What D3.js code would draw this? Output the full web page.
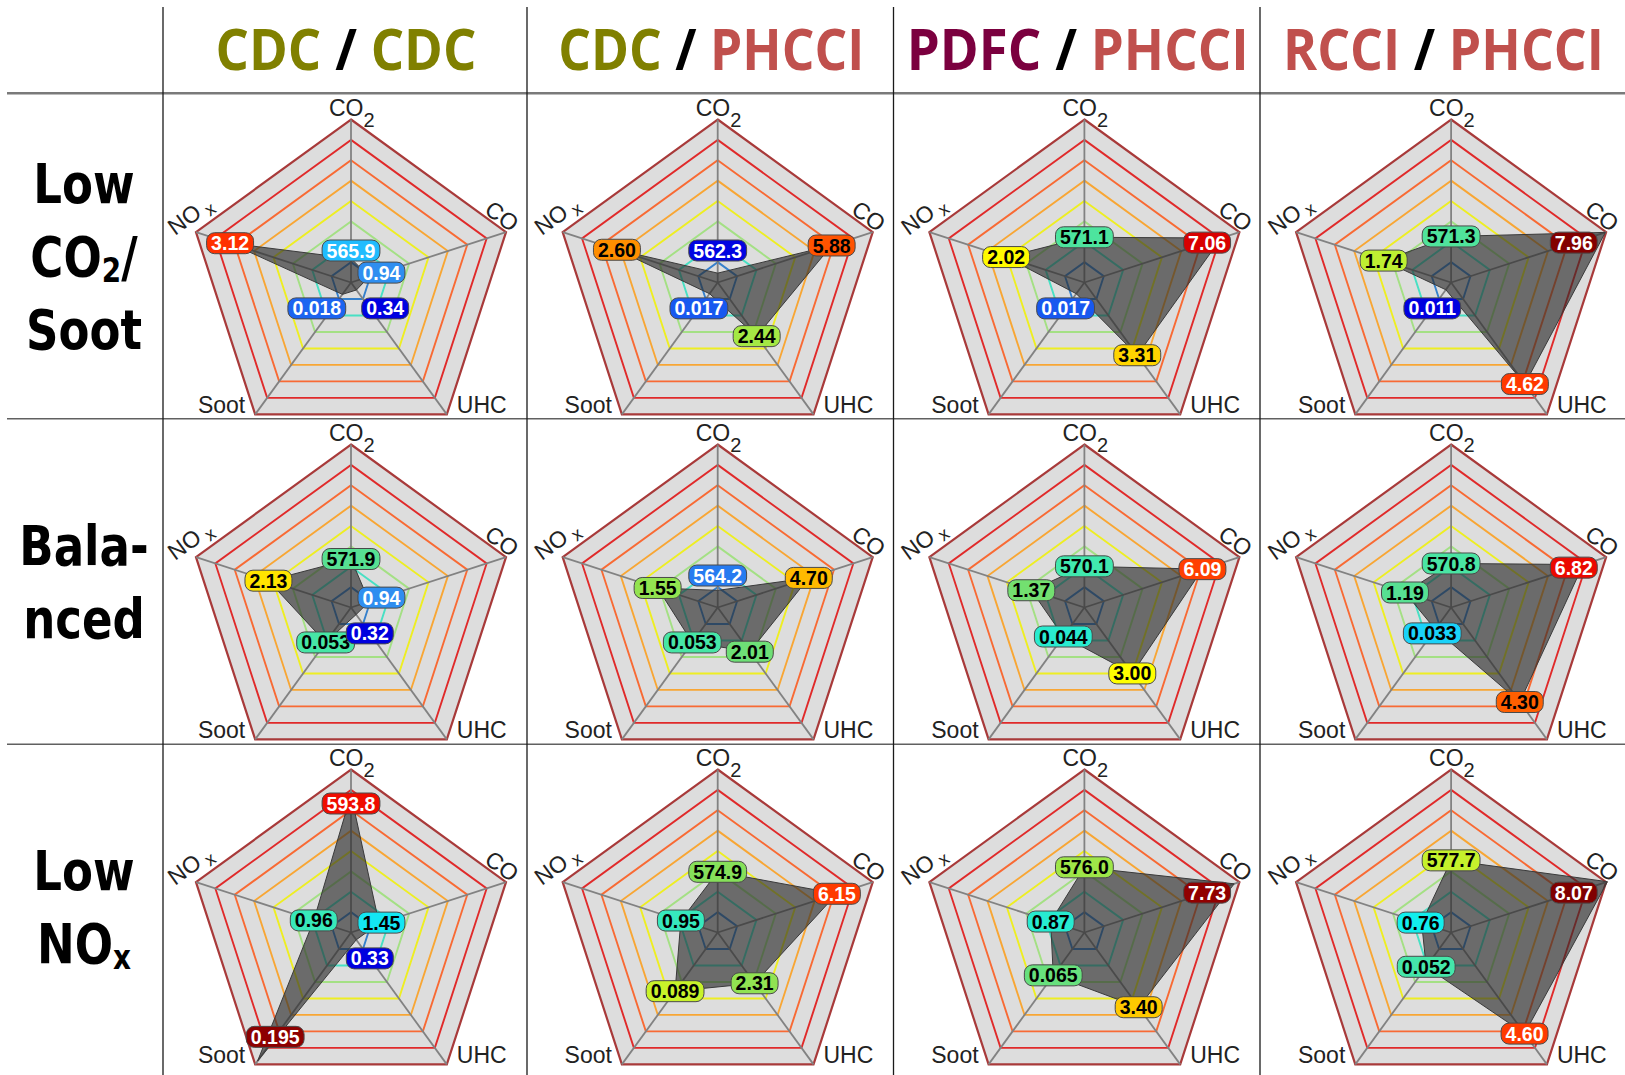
<!DOCTYPE html>
<html>
<head>
<meta charset="utf-8">
<script src="https://cdn.jsdelivr.net/npm/d3@7"></script>
<style>
  body { margin: 0; background: #fff; }
  svg { display: block; }
</style>
</head>
<body>
<svg id="chart" width="1625" height="1075"></svg>
<script>
// ---- data -------------------------------------------------------------
// Combustion strategy pairs (columns) and operating targets (rows)
const strategyPairs = [["CDC", "CDC"], ["CDC", "PHCCI"], ["PDFC", "PHCCI"], ["RCCI", "PHCCI"]];
const modes = ["Low CO2/Soot", "Balanced", "Low NOx"];
const axisNames = ["CO2", "CO", "UHC", "Soot", "NOx"];

// Emissions, one row per mode, one column per strategy pair
const co2Values  = [[565.9, 562.3, 571.1, 571.3], [571.9, 564.2, 570.1, 570.8], [593.8, 574.9, 576.0, 577.7]];
const coValues   = [[0.94, 5.88, 7.06, 7.96], [0.94, 4.70, 6.09, 6.82], [1.45, 6.15, 7.73, 8.07]];
const uhcValues  = [[0.34, 2.44, 3.31, 4.62], [0.32, 2.01, 3.00, 4.30], [0.33, 2.31, 3.40, 4.60]];
const sootValues = [[0.018, 0.017, 0.017, 0.011], [0.053, 0.053, 0.044, 0.033], [0.195, 0.089, 0.065, 0.052]];
const noxValues  = [[3.12, 2.60, 2.02, 1.74], [2.13, 1.55, 1.37, 1.19], [0.96, 0.95, 0.87, 0.76]];

// Axis ranges (centre -> outer ring)
const co2Domain  = [560, 600];
const coDomain   = [0, 8];
const uhcDomain  = [0, 6];
const sootDomain = [0, 0.2];
const noxDomain  = [0, 4];

// ---- layout & style ---------------------------------------------------
const series  = [co2Values, coValues, uhcValues, sootValues, noxValues];
const domains = [co2Domain, coDomain, uhcDomain, sootDomain, noxDomain];
const formats = [d3.format(".1f"), d3.format(".2f"), d3.format(".2f"), d3.format(".3f"), d3.format(".2f")];

const methodColor = { CDC: "#808000", PHCCI: "#c0504d", PDFC: "#7b003f", RCCI: "#c0504d" };
const colLines = [163, 527, 893.5, 1260];
const colRight = 1625;
const headerLineY = 93.3;
const rowLines = [418.7, 744.2];
const R = 163, ringCount = 8, ringStep = R / ringCount;
const cx0 = 351, dxCell = 366.7, cy0 = 282.5, dyCell = 325;
const ringColors = ["#3580cc", "#48e0c4", "#a4e084", "#eeee22", "#f8a634", "#f86a34", "#e02a2a", "#a83a3a"];
const colorStops = [[0, "#0000b0"], [0.45, "#0000e0"], [0.7, "#1a60f0"], [0.95, "#3090f0"], [1.2, "#20c0ff"],
  [1.5, "#10eef0"], [2.0, "#40e8b0"], [2.4, "#58e090"], [3.0, "#88e058"], [3.5, "#c0f030"], [4.0, "#ffff00"],
  [4.5, "#ffcc00"], [5.0, "#ffa000"], [5.5, "#ff7400"], [6.0, "#ff4800"], [6.5, "#ff1800"], [7.0, "#e00000"],
  [7.5, "#a00000"], [8.0, "#800000"]];
const labelColor = d3.scaleLinear()
  .domain(colorStops.map(s => s[0]))
  .range(colorStops.map(s => s[1]))
  .clamp(true);

const svg = d3.select("#chart");
const scales = domains.map(d => d3.scaleLinear().domain(d).range([0, R]));
const angle = i => i * 2 * Math.PI / 5;
const ringPath = d3.lineRadial().angle((d, i) => angle(i)).radius(d => d).curve(d3.curveLinearClosed);

// ---- table grid --------------------------------------------------------
const grid = svg.append("g");
grid.append("line").attr("x1", 7).attr("x2", colRight).attr("y1", headerLineY).attr("y2", headerLineY)
  .attr("stroke", "#7a7a7a").attr("stroke-width", 2.5);
rowLines.forEach(y => grid.append("line").attr("x1", 7).attr("x2", colRight).attr("y1", y).attr("y2", y)
  .attr("stroke", "#606060").attr("stroke-width", 1.5));
colLines.forEach(x => grid.append("line").attr("x1", x).attr("x2", x).attr("y1", 7).attr("y2", 1075)
  .attr("stroke", "#1a1a1a").attr("stroke-width", 1.3));

// ---- column headers ----------------------------------------------------
const headerWidths = [261, 306, 342, 321];
const headerFont = "'Open Sans', 'Noto Sans', sans-serif";
strategyPairs.forEach((pair, c) => {
  const left = colLines[c], right = c + 1 < colLines.length ? colLines[c + 1] : colRight;
  const hg = svg.append("g");
  const parts = [[pair[0], methodColor[pair[0]]], ["/", "#000"], [pair[1], methodColor[pair[1]]]];
  const gap = 15;
  let x = 0;
  parts.forEach(([s, col], k) => {
    const t = hg.append("text").attr("x", x).attr("y", 0)
      .attr("font-family", headerFont).attr("font-weight", 700).attr("font-size", 57)
      .attr("fill", col).text(s);
    x += t.node().getComputedTextLength() + (k < parts.length - 1 ? gap : 0);
  });
  const sx = headerWidths[c] / x;
  const centre = (left + right) / 2 + 1;
  hg.attr("transform", `translate(${centre - headerWidths[c] / 2},70) scale(${sx},1)`);
});

// ---- row headers -------------------------------------------------------
const rowText = [
  [[["Low"]], [["CO"], ["2", "sub"], ["/"]], [["Soot"]]],
  [[["Bala-"]], [["nced"]]],
  [[["Low"]], [["NO"], ["x", "sub"]]]
];
rowText.forEach((lines, r) => {
  const top = r === 0 ? headerLineY : rowLines[r - 1];
  const bottom = r < rowLines.length ? rowLines[r] : 1069;
  const mid = (top + bottom) / 2;
  lines.forEach((segs, k) => {
    const y = mid + 20 + (k - (lines.length - 1) / 2) * 73;
    const t = svg.append("text")
      .attr("transform", `translate(84,${y}) scale(0.82,1)`)
      .attr("text-anchor", "middle")
      .attr("font-family", "'DejaVu Sans', sans-serif")
      .attr("font-weight", 700).attr("font-size", 55).attr("fill", "#000");
    let shifted = false;
    segs.forEach(([s, kind]) => {
      const ts = t.append("tspan").text(s);
      if (kind === "sub") { ts.attr("font-size", 34).attr("dy", 6); shifted = true; }
      else if (shifted) { ts.attr("dy", -6); shifted = false; }
    });
  });
});

// ---- radar cells -------------------------------------------------------
const font = "'Liberation Sans', Arial, sans-serif";
const titleSize = 23;
modes.forEach((mode, r) => {
  strategyPairs.forEach((pair, c) => {
    const cx = cx0 + c * dxCell, cy = cy0 + r * dyCell;
    const g = svg.append("g").attr("transform", `translate(${cx},${cy})`);
    const vals = series.map(s => s[r][c]);

    // background and concentric rings
    g.append("path").attr("d", ringPath(d3.range(5).map(() => R))).attr("fill", "#dddddd");
    d3.range(1, ringCount + 1).forEach(k => {
      g.append("path").attr("d", ringPath(d3.range(5).map(() => k * ringStep)))
        .attr("fill", "none").attr("stroke", ringColors[k - 1])
        .attr("stroke-width", k === ringCount ? 2.2 : 1.9);
    });

    // spokes
    axisNames.forEach((a, i) => {
      const p = d3.pointRadial(angle(i), R);
      g.append("line").attr("x1", 0).attr("y1", 0).attr("x2", p[0]).attr("y2", p[1])
        .attr("stroke", "#828282").attr("stroke-width", 1.8);
    });

    // data polygon
    const polyLine = d3.lineRadial().angle((d, i) => angle(i)).radius((d, i) => scales[i](d))
      .curve(d3.curveLinearClosed);
    g.append("path").attr("d", polyLine(vals))
      .attr("fill", "#2a2a2a").attr("fill-opacity", 0.64)
      .attr("stroke", "#3a3a3a").attr("stroke-width", 1);

    // axis titles
    const vTop = d3.pointRadial(angle(0), R);
    const tCO2 = g.append("text").attr("x", -22).attr("y", vTop[1] - 4)
      .attr("font-family", font).attr("font-size", titleSize).attr("fill", "#222");
    tCO2.append("tspan").text("CO");
    tCO2.append("tspan").attr("dy", 11.5).attr("font-size", 20).text("2");

    const vCO = d3.pointRadial(angle(1), R);
    g.append("text").attr("transform", `translate(${vCO[0] - 4},${vCO[1] - 16}) rotate(36)`)
      .attr("text-anchor", "middle").attr("dy", "0.35em")
      .attr("font-family", font).attr("font-size", titleSize).attr("fill", "#222").text("CO");

    const vUHC = d3.pointRadial(angle(2), R);
    g.append("text").attr("x", vUHC[0] + 10).attr("y", vUHC[1] - 1)
      .attr("font-family", font).attr("font-size", titleSize).attr("fill", "#222").text("UHC");

    const vSoot = d3.pointRadial(angle(3), R);
    g.append("text").attr("x", vSoot[0] - 10).attr("y", vSoot[1] - 1).attr("text-anchor", "end")
      .attr("font-family", font).attr("font-size", titleSize).attr("fill", "#222").text("Soot");

    const vNOx = d3.pointRadial(angle(4), R);
    const tNOx = g.append("text").attr("transform", `translate(${vNOx[0] - 6},${vNOx[1] - 17}) rotate(-36)`)
      .attr("text-anchor", "middle").attr("dy", "0.35em")
      .attr("font-family", font).attr("font-size", titleSize).attr("fill", "#222");
    tNOx.append("tspan").text("NO");
    tNOx.append("tspan").attr("dx", 5).attr("dy", 5).attr("font-size", 18).text("x");

    // value labels: placed on their axis, kept between an inner and outer radius
    const drawOrder = [0, 4, 3, 2, 1];
    const labels = drawOrder.map(i => {
      const rr = scales[i](vals[i]);
      const rPos = Math.max(32, Math.min(129, rr));
      const p = d3.pointRadial(angle(i), rPos);
      const rings = rr / ringStep;
      const lg = g.append("g");
      const txt = lg.append("text")
        .attr("text-anchor", "middle").attr("dy", "0.36em")
        .attr("font-family", font).attr("font-weight", 700).attr("font-size", 19.5)
        .attr("fill", (rings < 1.25 || rings > 6.0) ? "#fff" : "#000")
        .text(formats[i](vals[i]));
      const w = txt.node().getComputedTextLength() + 9;
      return { lg, txt, x: p[0], y: p[1], w, h: 21, fill: labelColor(rings) };
    });

    // separate labels that sit on the same line
    for (let it = 0; it < 30; it++) {
      for (let a = 0; a < labels.length; a++) {
        for (let b = a + 1; b < labels.length; b++) {
          const A = labels[a], B = labels[b];
          if (Math.abs(A.y - B.y) > 6) continue;
          const need = (A.w + B.w) / 2 + 16;
          const d = B.x - A.x;
          if (Math.abs(d) < need) {
            const push = (need - Math.abs(d)) / 2;
            const sgn = d >= 0 ? 1 : -1;
            A.x -= sgn * push; B.x += sgn * push;
          }
        }
      }
    }

    labels.forEach(L => {
      L.lg.attr("transform", `translate(${L.x},${L.y})`);
      L.lg.insert("rect", "text")
        .attr("x", -L.w / 2).attr("y", -L.h / 2).attr("width", L.w).attr("height", L.h)
        .attr("rx", 8).attr("fill", L.fill).attr("stroke", "#4a4a4a").attr("stroke-width", 1);
    });
  });
});
</script>
</body>
</html>
